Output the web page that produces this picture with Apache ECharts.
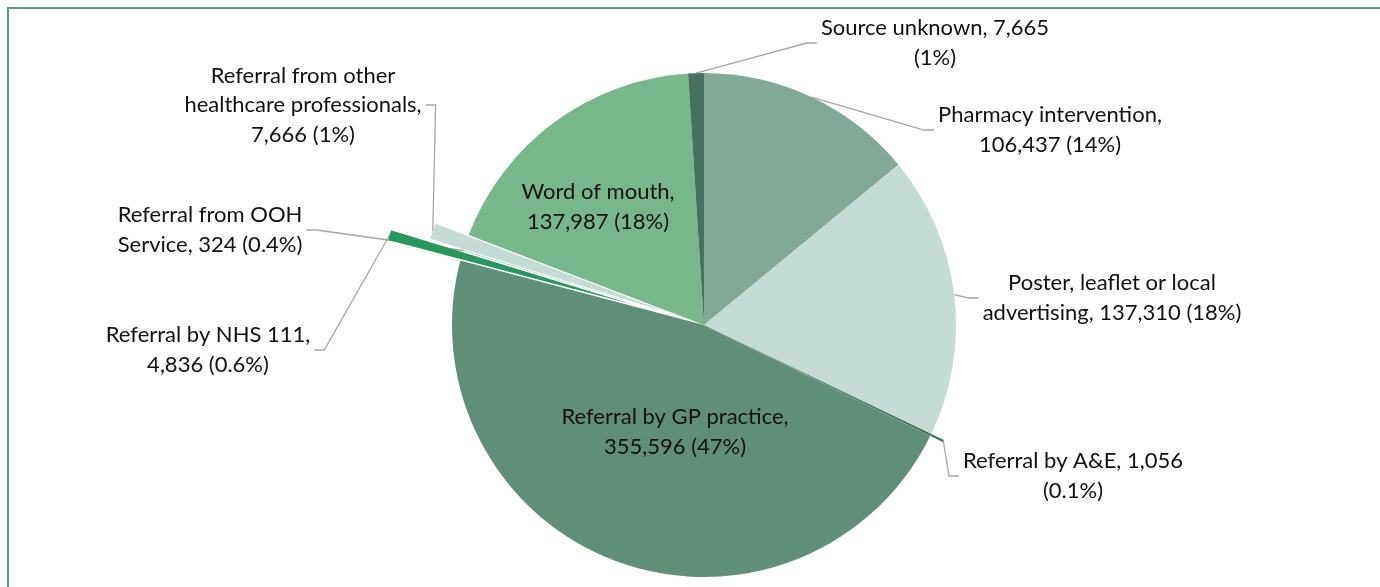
<!DOCTYPE html>
<html><head><meta charset="utf-8">
<script src="https://cdn.jsdelivr.net/npm/echarts@6/dist/echarts.min.js"></script>
<style>html,body{margin:0;padding:0;background:#fff}#c{width:1380px;height:587px}</style>
</head><body><div id="c"></div>
<script>
// ---- data ----
const categories = ['Pharmacy intervention', 'Poster, leaflet or local advertising', 'Referral by A&E', 'Referral by GP practice', 'Referral by NHS 111', 'Referral from OOH Service', 'Referral from other healthcare professionals', 'Word of mouth', 'Source unknown'];
const values = [106437, 137310, 1056, 355596, 4836, 324, 7666, 137987, 7665];
const percentLabels = ['14%', '18%', '0.1%', '47%', '0.6%', '0.4%', '1%', '18%', '1%'];

// ---- style / layout ----
const colors = ['#80a997', '#c5dbd5', '#3e6e5a', '#608f79', '#28965f', '#7faa98', '#c5dbd5', '#78b68c', '#46705f'];
const explodeOffset = [0, 0, 14, 0, 75, 0, 35, 0, 0];
const labelCenters = [[1050, 130], [1112, 298], [1073, 476], [675, 432], [208, 350], [210, 230], [303, 105], [598, 207], [935, 43]];
const insideLabel = [false, false, false, true, false, false, false, true, false];
const lineWords = [[2, 2], [4, 3], [4, 1], [4, 2], [4, 2], [3, 3], [3, 2, 2], [3, 2], [3, 1]];
const CX = 704, CY = 325, R = 252;

const total = values.reduce((a, b) => a + b, 0);
function midAngle(i) {
  let before = 0;
  for (let j = 0; j < i; j++) before += values[j];
  return (before + values[i] / 2) / total * 2 * Math.PI; // clockwise from 12 o'clock
}
function labelText(i) {
  const words = `${categories[i]}, ${values[i].toLocaleString('en-US')} (${percentLabels[i]})`.split(' ');
  const out = []; let k = 0;
  for (const n of lineWords[i]) { out.push(words.slice(k, k + n).join(' ')); k += n; }
  return out.join('\n');
}

const seriesCenters = [];
function makeSeries(visible, center) {
  const sIdx = seriesCenters.length;
  seriesCenters.push(center);
  return {
    type: 'pie', center: center, radius: R, startAngle: 90, clockwise: true,
    animation: false, silent: true, avoidLabelOverlap: false, minShowLabelAngle: 0,
    emphasis: { disabled: true },
    itemStyle: { borderWidth: 0 },
    data: values.map((v, i) => ({
      name: categories[i], value: v,
      itemStyle: { color: visible.includes(i) ? colors[i] : 'rgba(0,0,0,0)' },
      label: { show: visible.includes(i), position: insideLabel[i] ? 'inside' : 'outside' },
      labelLine: { show: visible.includes(i) && !insideLabel[i] }
    })),
    label: {
      formatter: p => labelText(p.dataIndex),
      color: '#111', fontFamily: 'Lato', fontSize: 22, lineHeight: 29.5, align: 'center'
    },
    labelLine: { length: 10, length2: 10, lineStyle: { color: '#a6a6a6', width: 1.3 } },
    labelLayout: function (p) {
      const i = p.dataIndex;
      const [x, y] = labelCenters[i];
      if (insideLabel[i]) return { x: x, y: y, align: 'center', verticalAlign: 'middle' };
      const c = seriesCenters[sIdx];
      const a = midAngle(i);
      const p0 = [c[0] + R * Math.sin(a), c[1] - R * Math.cos(a)];
      const w = p.labelRect.width;
      const right = x > CX;
      const ax = right ? x - w / 2 - 4 : x + w / 2 + 4;
      const p1 = [ax + (right ? -10 : 10), y];
      return { x: x, y: y, align: 'center', verticalAlign: 'middle', labelLinePoints: [p0, p1, [ax, y]] };
    }
  };
}

const mainVisible = values.map((v, i) => i).filter(i => explodeOffset[i] === 0);
const series = [makeSeries(mainVisible, [CX, CY])];
values.forEach((v, i) => {
  if (explodeOffset[i] > 0) {
    const a = midAngle(i);
    series.push(makeSeries([i], [CX + explodeOffset[i] * Math.sin(a), CY - explodeOffset[i] * Math.cos(a)]));
  }
});

const chart = echarts.init(document.getElementById('c'), null, { renderer: 'canvas' });
chart.setOption({
  backgroundColor: '#fff',
  animation: false,
  graphic: [{ type: 'rect', silent: true, z: -10, shape: { x: 8, y: 8, width: 1400, height: 620 }, style: { fill: 'none', stroke: '#5a9684', lineWidth: 2 } }],
  series: series
});
</script></body></html>
